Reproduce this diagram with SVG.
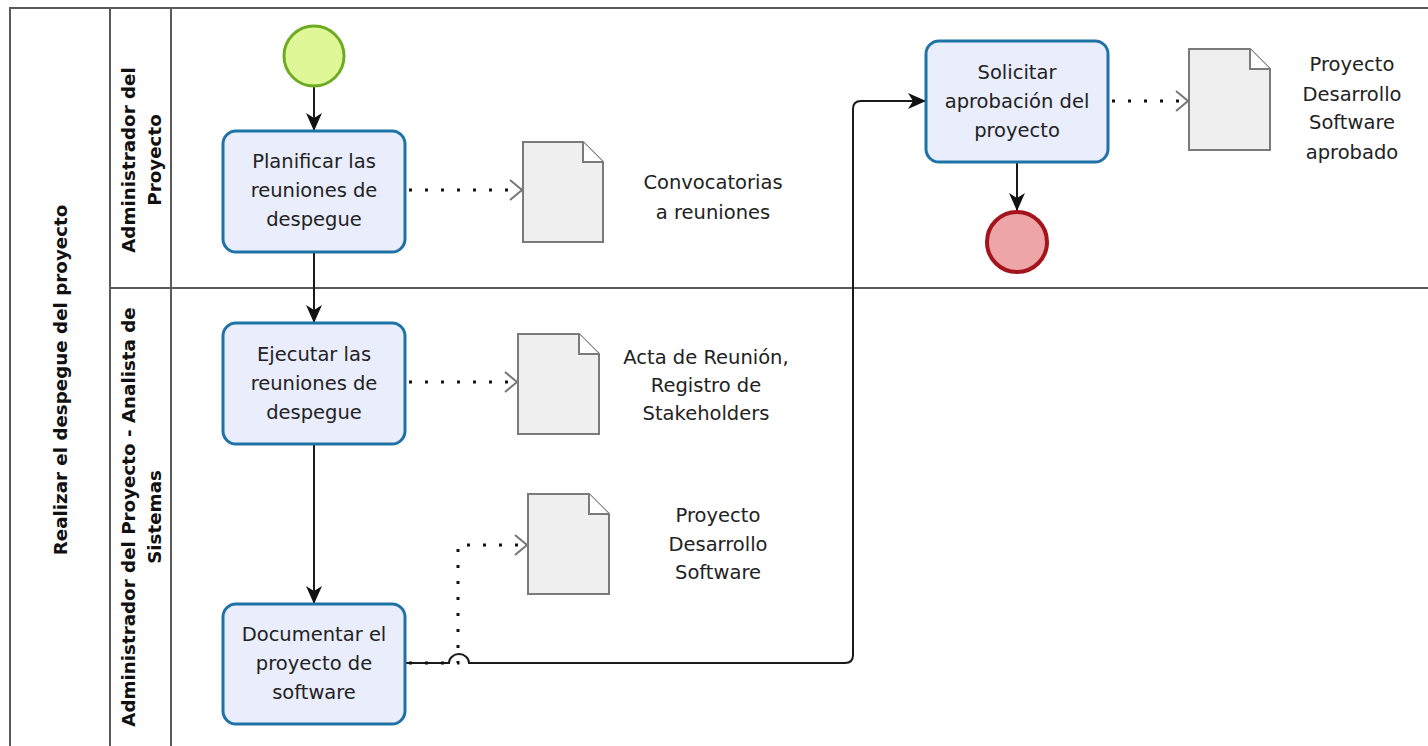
<svg xmlns="http://www.w3.org/2000/svg" width="1428" height="746" viewBox="0 0 1428 746">
  <style>
    .lane { fill: none; stroke: #5a5a5a; stroke-width: 2; }
    .task { fill: #e9edfc; stroke: #1f72a6; stroke-width: 3; }
    .doc { fill: #efefef; stroke: #7a7a7a; stroke-width: 2; }
    .fold { fill: #ffffff; stroke: #7a7a7a; stroke-width: 2; }
    .flow { fill: none; stroke: #1a1a1a; stroke-width: 2; }
    .assoc { fill: none; stroke: #111; stroke-width: 3; stroke-dasharray: 3 13; }
    .txt { font-family: "DejaVu Sans", "Liberation Sans", sans-serif; font-size: 19.5px; fill: #222; text-anchor: middle; dominant-baseline: central; }
    .hdr { font-family: "DejaVu Sans", "Liberation Sans", sans-serif; font-size: 18.3px; font-weight: bold; fill: #111; text-anchor: middle; dominant-baseline: central; }
  </style>
  <defs>
    <marker id="arrow" viewBox="0 0 18 18" refX="17" refY="9" markerWidth="18" markerHeight="18" markerUnits="userSpaceOnUse" orient="auto">
      <path d="M0,1 L18,9 L0,17 L5,9 Z" fill="#111"/>
    </marker>
    <marker id="open" viewBox="0 0 14 22" refX="13" refY="11" markerWidth="14" markerHeight="22" markerUnits="userSpaceOnUse" orient="auto">
      <path d="M1,1 L13,11 L1,21" fill="none" stroke="#777" stroke-width="2"/>
    </marker>
  </defs>

  <rect width="1428" height="746" fill="#ffffff"/>

  <!-- pool and lanes -->
  <g id="pool">
    <path class="lane" d="M1430,8 H10 V750"/>
    <path class="lane" d="M110,8 V750"/>
    <path class="lane" d="M171,8 V750"/>
    <path class="lane" d="M110,288 H1430"/>
    <text class="hdr" transform="translate(60,380) rotate(-90)">Realizar el despegue del proyecto</text>
  </g>
  <g id="lane-admin">
    <text class="hdr" transform="translate(141,160) rotate(-90)"><tspan x="0" y="-13">Administrador del</tspan><tspan x="0" y="13">Proyecto</tspan></text>
  </g>
  <g id="lane-analista">
    <text class="hdr" transform="translate(141,517) rotate(-90)"><tspan x="0" y="-13">Administrador del Proyecto - Analista de</tspan><tspan x="0" y="13">Sistemas</tspan></text>
  </g>

  <!-- connectors -->
  <g id="connectors">
    <line class="flow" x1="314" y1="87" x2="314" y2="130" marker-end="url(#arrow)"/>
    <line class="flow" x1="314" y1="253" x2="314" y2="322" marker-end="url(#arrow)"/>
    <line class="flow" x1="314" y1="445" x2="314" y2="603" marker-end="url(#arrow)"/>
    <path class="flow" d="M406,663 H449 A10,9 0 0 1 469,663 H845 Q853,663 853,655 V109 Q853,101 861,101 H925" marker-end="url(#arrow)"/>
    <line class="flow" x1="1017" y1="163" x2="1017" y2="210" marker-end="url(#arrow)"/>
    <line class="assoc" x1="409" y1="190" x2="522" y2="190" marker-end="url(#open)"/>
    <line class="assoc" x1="409" y1="382" x2="517" y2="382" marker-end="url(#open)"/>
    <path class="assoc" d="M409,663 H458 V545 H527" marker-end="url(#open)"/>
    <line class="assoc" x1="1112" y1="101" x2="1188" y2="101" marker-end="url(#open)"/>
  </g>

  <!-- events -->
  <g id="start">
    <circle cx="314" cy="56" r="30" fill="#dff796" stroke="#6dab22" stroke-width="3"/>
  </g>
  <g id="end">
    <circle cx="1017" cy="242" r="30" fill="#eda5a7" stroke="#a3141c" stroke-width="4"/>
  </g>

  <!-- tasks -->
  <g id="task-planificar">
    <rect class="task" x="223" y="131" width="182" height="121" rx="13"/>
    <text class="txt" x="314" y="161">Planificar las</text>
    <text class="txt" x="314" y="190">reuniones de</text>
    <text class="txt" x="314" y="219">despegue</text>
  </g>
  <g id="task-ejecutar">
    <rect class="task" x="223" y="323" width="182" height="121" rx="13"/>
    <text class="txt" x="314" y="354">Ejecutar las</text>
    <text class="txt" x="314" y="383">reuniones de</text>
    <text class="txt" x="314" y="412">despegue</text>
  </g>
  <g id="task-documentar">
    <rect class="task" x="223" y="604" width="182" height="120" rx="13"/>
    <text class="txt" x="314" y="634">Documentar el</text>
    <text class="txt" x="314" y="663">proyecto de</text>
    <text class="txt" x="314" y="692">software</text>
  </g>
  <g id="task-solicitar">
    <rect class="task" x="926" y="41" width="182" height="121" rx="13"/>
    <text class="txt" x="1017" y="72">Solicitar</text>
    <text class="txt" x="1017" y="101">aprobación del</text>
    <text class="txt" x="1017" y="130">proyecto</text>
  </g>

  <!-- data objects -->
  <g id="doc-convocatorias">
    <path class="doc" d="M523,142 H583 L603,162 V242 H523 Z"/>
    <path class="fold" d="M583,142 V162 H603"/>
    <text class="txt" x="713" y="182">Convocatorias</text>
    <text class="txt" x="713" y="212">a reuniones</text>
  </g>
  <g id="doc-acta">
    <path class="doc" d="M518,334 H579 L599,354 V434 H518 Z"/>
    <path class="fold" d="M579,334 V354 H599"/>
    <text class="txt" x="706" y="357">Acta de Reunión,</text>
    <text class="txt" x="706" y="385">Registro de</text>
    <text class="txt" x="706" y="413">Stakeholders</text>
  </g>
  <g id="doc-proyecto">
    <path class="doc" d="M528,494 H589 L609,514 V594 H528 Z"/>
    <path class="fold" d="M589,494 V514 H609"/>
    <text class="txt" x="718" y="515">Proyecto</text>
    <text class="txt" x="718" y="544">Desarrollo</text>
    <text class="txt" x="718" y="572">Software</text>
  </g>
  <g id="doc-aprobado">
    <path class="doc" d="M1189,49 H1250 L1270,69 V150 H1189 Z"/>
    <path class="fold" d="M1250,49 V69 H1270"/>
    <text class="txt" x="1352" y="64">Proyecto</text>
    <text class="txt" x="1352" y="94">Desarrollo</text>
    <text class="txt" x="1352" y="122">Software</text>
    <text class="txt" x="1352" y="152">aprobado</text>
  </g>
</svg>
